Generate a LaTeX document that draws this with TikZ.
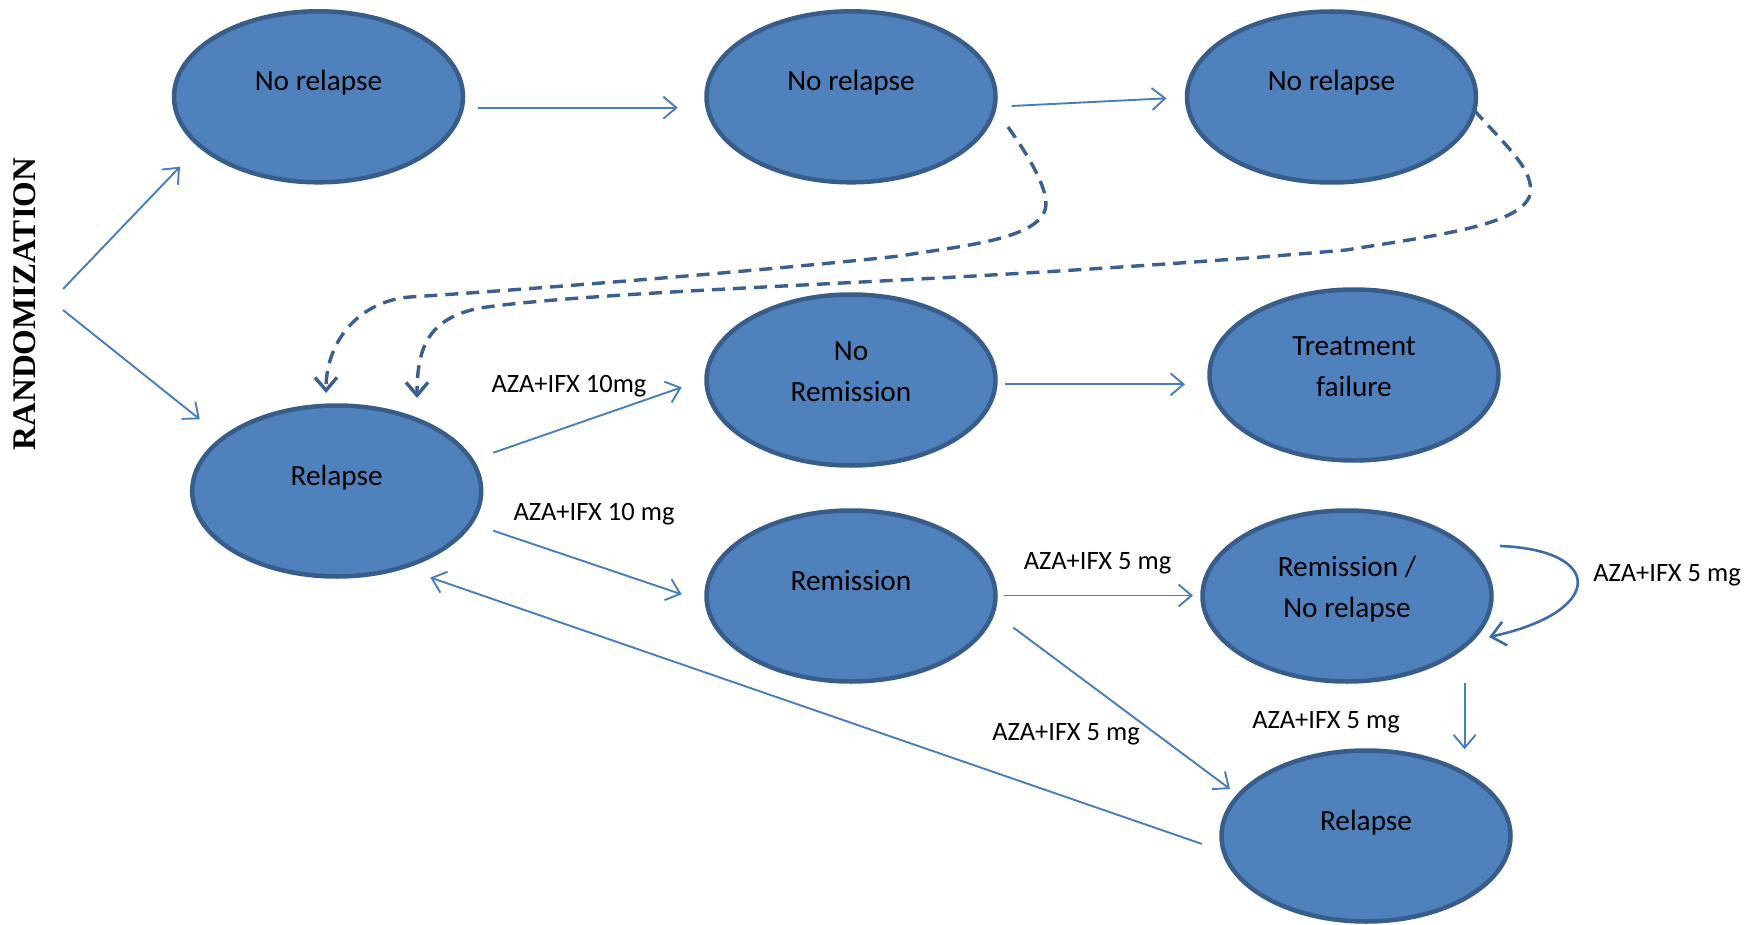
\documentclass[tikz,border=0pt]{standalone}
\usepackage{fontspec}
\setmainfont{Carlito}
\newfontfamily\randfont{Liberation Serif}
\usetikzlibrary{arrows.meta,shapes.geometric}
\definecolor{ellfill}{HTML}{4F81BD}
\definecolor{ellline}{HTML}{385D8A}
\definecolor{arrcol}{HTML}{4A7EBB}
\definecolor{dashcol}{HTML}{3B5F8E}
\definecolor{loopcol}{HTML}{3F6CA6}
\tikzset{
 state/.style={ellipse, draw=ellline, line width=4.5pt, fill=ellfill, minimum width=289pt, minimum height=171pt, inner sep=0pt},
 stxt/.style={font=\fontsize{29.3}{41}\selectfont, align=center, anchor=base, inner sep=0pt},
 lbl/.style={font=\fontsize{26.5}{31}\selectfont, anchor=base, inner sep=0pt},
 flow/.style={draw=arrcol, line width=1.9pt, -{Straight Barb[length=13pt,width=22pt]}},
 back/.style={draw=dashcol, line width=3.4pt, dash pattern=on 13pt off 8pt, -{Straight Barb[length=13pt,width=22pt]}},
 loopy/.style={draw=loopcol, line width=2.6pt, -{Straight Barb[length=14pt,width=24pt]}},
}
\begin{document}
\begin{tikzpicture}[x=1pt,y=-1pt]
\useasboundingbox[fill=white] (0,0) rectangle (1748,925);

% states
\node[state] (A) at (318.5,96.8) {};
\node[state] (B) at (851,96.8) {};
\node[state] (C) at (1331.5,97) {};
\node[state] (D) at (336.7,491) {};
\node[state] (E) at (851,380) {};
\node[state] (F) at (1354,375) {};
\node[state] (G) at (851,596) {};
\node[state] (H) at (1347,596) {};
\node[state] (I) at (1366,836) {};

\node[stxt] (At) at (318.5,91) {No relapse};
\node[stxt] (Bt) at (851,91) {No relapse};
\node[stxt] (Ct) at (1331.5,91) {No relapse};
\node[stxt] (Dt) at (336.7,485) {Relapse};
\node[stxt] (Et) at (851,401) {No\\Remission};
\node[stxt] (Ft) at (1354,396) {Treatment\\failure};
\node[stxt] (Gt) at (851,590) {Remission};
\node[stxt] (Ht) at (1347,617) {Remission /\\No relapse};
\node[stxt] (It) at (1366,830) {Relapse};

\node[rotate=90, inner sep=0pt, font=\randfont\bfseries\fontsize{33}{36}\selectfont] (rand) at (25,304) {RANDOMIZATION};

% connector end points
\coordinate (r1s) at (63,289);   \coordinate (r1e) at (180,166.7);
\coordinate (r2s) at (63,310);   \coordinate (r2e) at (199.8,419.3);
\coordinate (abs) at (477.6,107.7); \coordinate (abe) at (677.8,107.7);
\coordinate (bcs) at (1011.6,106); \coordinate (bce) at (1166.5,98.3);
\coordinate (des) at (493.3,452.7); \coordinate (dee) at (681.7,387.3);
\coordinate (dgs) at (493.3,530.7); \coordinate (dge) at (681.7,594.3);
\coordinate (efs) at (1005,384.3); \coordinate (efe) at (1185,384.3);
\coordinate (ghs) at (1004.4,595.5); \coordinate (ghe) at (1193,595.5);
\coordinate (his) at (1464.6,682.7); \coordinate (hie) at (1464.6,749.3);
\coordinate (gis) at (1013.4,627.6); \coordinate (gie) at (1230,789);
\coordinate (ids) at (1201.8,843.9); \coordinate (ide) at (430.3,577.5);
\coordinate (hls) at (1500,546); \coordinate (hle) at (1489,637);
\coordinate (b1s) at (1008,127); \coordinate (b1e) at (326,393);
\coordinate (b2s) at (1474,110); \coordinate (b2e) at (417,398);

% solid connectors
\draw[flow] (r1s) -- (r1e);
\draw[flow] (r2s) -- (r2e);
\draw[flow] (abs) -- (abe);
\draw[flow] (bcs) -- (bce);
\draw[flow] (des) -- (dee);
\draw[flow] (dgs) -- (dge);
\draw[flow] (efs) -- (efe);
\draw[flow] (ghs) -- (ghe);
\draw[flow] (his) -- (hie);
\draw[flow] (gis) -- (gie);
\draw[flow] (ids) -- (ide);
\draw[loopy] (hls) .. controls (1605,550) and (1605,612) .. (hle);

% dashed connectors
\draw[back] (b1s) .. controls (1035,165) and (1050,195) .. (1045,210)
  .. controls (1035,240) and (960,246) .. (900,256)
  .. controls (750,272) and (520,290) .. (410,297)
  .. controls (360,301) and (326,340) .. (b1e);
\draw[back] (b2s) .. controls (1505,145) and (1535,170) .. (1530,195)
  .. controls (1520,225) and (1440,235) .. (1346,250)
  .. controls (1200,263) and (1000,275) .. (900,280)
  .. controls (750,288) and (560,296) .. (480,308)
  .. controls (430,318) and (417,345) .. (b2e);

% labels
\node[lbl] (l1) at (569,392) {AZA+IFX 10mg};
\node[lbl] (l2) at (594,520) {AZA+IFX 10 mg};
\node[lbl] (l3) at (1097.5,569) {AZA+IFX 5 mg};
\node[lbl] (l4) at (1667,581.5) {AZA+IFX 5 mg};
\node[lbl] (l5) at (1326,728) {AZA+IFX 5 mg};
\node[lbl] (l6) at (1066,740) {AZA+IFX 5 mg};
\end{tikzpicture}
\end{document}
